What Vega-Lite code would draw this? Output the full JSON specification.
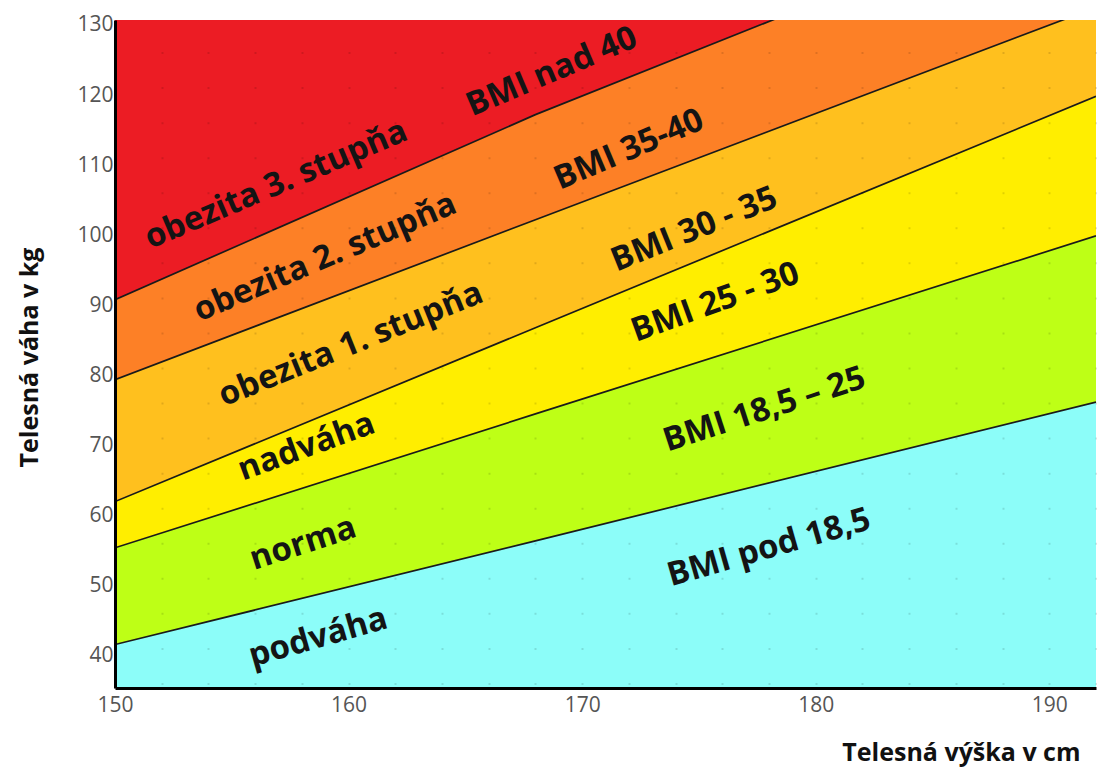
{
  "$schema": "https://vega.github.io/schema/vega-lite/v6.json",
  "width": 981,
  "height": 668,
  "autosize": "none",
  "padding": {"left": 115, "top": 20, "right": 1, "bottom": 79},
  "background": "white",
  "config": {"view": {"stroke": null}},
  "datasets": {
    "bands": [
      {"zone": "podváha", "h": 150, "lo": 30, "hi": 41.6},
      {"zone": "podváha", "h": 168, "lo": 30, "hi": 56.4},
      {"zone": "podváha", "h": 192, "lo": 30, "hi": 76.2},
      {"zone": "norma", "h": 150, "lo": 41.6, "hi": 55.4},
      {"zone": "norma", "h": 168, "lo": 56.4, "hi": 74.5},
      {"zone": "norma", "h": 192, "lo": 76.2, "hi": 99.9},
      {"zone": "nadváha", "h": 150, "lo": 55.4, "hi": 62.0},
      {"zone": "nadváha", "h": 168, "lo": 74.5, "hi": 86.8},
      {"zone": "nadváha", "h": 192, "lo": 99.9, "hi": 119.8},
      {"zone": "obezita 1. stupňa", "h": 150, "lo": 62.0, "hi": 79.4},
      {"zone": "obezita 1. stupňa", "h": 168, "lo": 86.8, "hi": 102.2},
      {"zone": "obezita 1. stupňa", "h": 192, "lo": 119.8, "hi": 132.5},
      {"zone": "obezita 2. stupňa", "h": 150, "lo": 79.4, "hi": 90.8},
      {"zone": "obezita 2. stupňa", "h": 168, "lo": 102.2, "hi": 117.2},
      {"zone": "obezita 2. stupňa", "h": 192, "lo": 132.5, "hi": 149.1},
      {"zone": "obezita 3. stupňa", "h": 150, "lo": 90.8, "hi": 150},
      {"zone": "obezita 3. stupňa", "h": 168, "lo": 117.2, "hi": 150},
      {"zone": "obezita 3. stupňa", "h": 192, "lo": 149.1, "hi": 150}
    ],
    "labels": [
      {"zone": "obezita 3. stupňa", "text": "obezita 3. stupňa", "h": 156.9, "w": 107.2},
      {"zone": "obezita 3. stupňa", "text": "BMI nad 40", "h": 168.7, "w": 123.3},
      {"zone": "obezita 2. stupňa", "text": "obezita 2. stupňa", "h": 159.0, "w": 96.8},
      {"zone": "obezita 2. stupňa", "text": "BMI 35-40", "h": 172.0, "w": 112.2},
      {"zone": "obezita 1. stupňa", "text": "obezita 1. stupňa", "h": 160.1, "w": 84.4},
      {"zone": "obezita 1. stupňa", "text": "BMI 30 - 35", "h": 174.8, "w": 100.8},
      {"zone": "nadváha", "text": "nadváha", "h": 158.2, "w": 69.8},
      {"zone": "nadváha", "text": "BMI 25 - 30", "h": 175.7, "w": 90.4},
      {"zone": "norma", "text": "norma", "h": 158.05, "w": 56.0},
      {"zone": "norma", "text": "BMI 18,5 – 25", "h": 177.8, "w": 75.1},
      {"zone": "podváha", "text": "podváha", "h": 158.7, "w": 42.6},
      {"zone": "podváha", "text": "BMI pod 18,5", "h": 178.0, "w": 55.4}
    ]
  },
  "layer": [
    {
      "data": {"name": "bands"},
      "mark": {"type": "area", "clip": true, "opacity": 1},
      "encoding": {
        "x": {
          "field": "h", "type": "quantitative",
          "scale": {"domain": [150, 192], "nice": false, "zero": false},
          "axis": {
            "values": [150,152,154,156,158,160,162,164,166,168,170,172,174,176,178,180,182,184,186,188,190,192],
            "labelExpr": "datum.value % 10 === 0 ? datum.label : ''",
            "title": "Telesná výška v cm",
            "titleFont": "Open Sans", "titleFontSize": 25, "titleFontWeight": "bold", "titleColor": "#111",
            "titleAlign": "right", "titleBaseline": "middle", "titleX": 965, "titleY": 64,
            "labelFont": "Open Sans", "labelFontSize": 21, "labelColor": "#555", "labelPadding": 6,
            "labelFlush": false, "labelOverlap": false,
            "ticks": false,
            "domainColor": "#000", "domainWidth": 3,
            "grid": true, "gridColor": "#000", "gridOpacity": 0.12, "gridWidth": 2,
            "gridDash": [2, 33.05], "gridDashOffset": 3.5,
            "zindex": 1
          }
        },
        "y": {
          "field": "lo", "type": "quantitative", "stack": null,
          "scale": {"domain": [35.4, 130.7], "nice": false, "zero": false},
          "axis": {
            "values": [40, 50, 60, 70, 80, 90, 100, 110, 120, 130],
            "title": "Telesná váha v kg",
            "titleFont": "Open Sans", "titleFontSize": 25, "titleFontWeight": "bold", "titleColor": "#111",
            "titleAngle": 270, "titleAlign": "center", "titleBaseline": "middle", "titleX": -86, "titleY": 337,
            "labelFont": "Open Sans", "labelFontSize": 21, "labelColor": "#555", "labelPadding": 2,
            "labelFlush": false, "labelOverlap": false,
            "ticks": false, "grid": false,
            "domainColor": "#000", "domainWidth": 3,
            "zindex": 1
          }
        },
        "y2": {"field": "hi"},
        "color": {
          "field": "zone", "type": "nominal", "legend": null,
          "scale": {
            "domain": ["podváha", "norma", "nadváha", "obezita 1. stupňa", "obezita 2. stupňa", "obezita 3. stupňa"],
            "range": ["#8cfdf9", "#beff16", "#ffee00", "#ffc01e", "#fd8026", "#ec1c24"]
          }
        }
      }
    },
    {
      "data": {"name": "bands"},
      "transform": [{"filter": "datum.zone !== 'podváha'"}],
      "mark": {"type": "line", "clip": true, "color": "#1a1a1a", "strokeWidth": 1.7},
      "encoding": {
        "x": {"field": "h", "type": "quantitative"},
        "y": {"field": "lo", "type": "quantitative"},
        "detail": {"field": "zone"}
      }
    },
    {
      "data": {"name": "labels"},
      "transform": [{"filter": "datum.zone === 'obezita 3. stupňa'"}],
      "mark": {"type": "text", "font": "Open Sans", "fontWeight": "bold", "fontSize": 33, "color": "#141414", "angle": -23, "align": "center", "baseline": "middle"},
      "encoding": {"x": {"field": "h", "type": "quantitative"}, "y": {"field": "w", "type": "quantitative"}, "text": {"field": "text"}}
    },
    {
      "data": {"name": "labels"},
      "transform": [{"filter": "datum.zone === 'obezita 2. stupňa'"}],
      "mark": {"type": "text", "font": "Open Sans", "fontWeight": "bold", "fontSize": 33, "color": "#141414", "angle": -23, "align": "center", "baseline": "middle"},
      "encoding": {"x": {"field": "h", "type": "quantitative"}, "y": {"field": "w", "type": "quantitative"}, "text": {"field": "text"}}
    },
    {
      "data": {"name": "labels"},
      "transform": [{"filter": "datum.zone === 'obezita 1. stupňa'"}],
      "mark": {"type": "text", "font": "Open Sans", "fontWeight": "bold", "fontSize": 33, "color": "#141414", "angle": -22, "align": "center", "baseline": "middle"},
      "encoding": {"x": {"field": "h", "type": "quantitative"}, "y": {"field": "w", "type": "quantitative"}, "text": {"field": "text"}}
    },
    {
      "data": {"name": "labels"},
      "transform": [{"filter": "datum.zone === 'nadváha'"}],
      "mark": {"type": "text", "font": "Open Sans", "fontWeight": "bold", "fontSize": 33, "color": "#141414", "angle": -20, "align": "center", "baseline": "middle"},
      "encoding": {"x": {"field": "h", "type": "quantitative"}, "y": {"field": "w", "type": "quantitative"}, "text": {"field": "text"}}
    },
    {
      "data": {"name": "labels"},
      "transform": [{"filter": "datum.zone === 'norma'"}],
      "mark": {"type": "text", "font": "Open Sans", "fontWeight": "bold", "fontSize": 33, "color": "#141414", "angle": -18, "align": "center", "baseline": "middle"},
      "encoding": {"x": {"field": "h", "type": "quantitative"}, "y": {"field": "w", "type": "quantitative"}, "text": {"field": "text"}}
    },
    {
      "data": {"name": "labels"},
      "transform": [{"filter": "datum.zone === 'podváha'"}],
      "mark": {"type": "text", "font": "Open Sans", "fontWeight": "bold", "fontSize": 33, "color": "#141414", "angle": -16, "align": "center", "baseline": "middle"},
      "encoding": {"x": {"field": "h", "type": "quantitative"}, "y": {"field": "w", "type": "quantitative"}, "text": {"field": "text"}}
    }
  ]
}
